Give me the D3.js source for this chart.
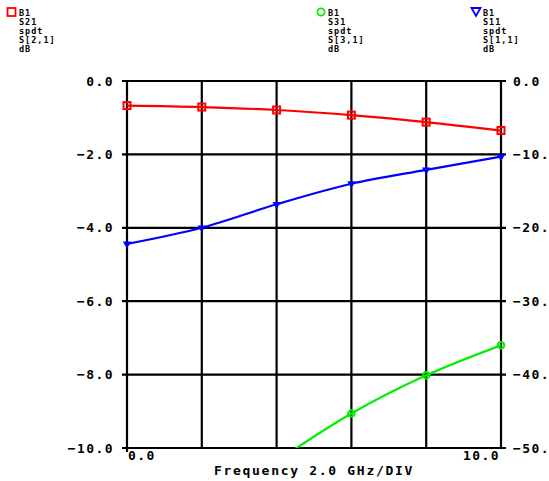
<!DOCTYPE html>
<html><head><meta charset="utf-8">
<script src="https://cdn.jsdelivr.net/npm/d3@7"></script>
<style>
html,body{margin:0;padding:0;background:#fff;overflow:hidden}
text{font-family:"DejaVu Sans Mono",monospace;font-weight:bold;fill:#000}
</style></head><body>
<script>
const freqs = [0, 2, 4, 6, 8, 10];
const s21 = [-0.67, -0.71, -0.79, -0.93, -1.12, -1.35];
const s11 = [-22.2, -20.0, -16.8, -14.0, -12.1, -10.3];
const s31Freqs = [4, 6, 8, 10];
const s31 = [-51.8, -45.3, -40.1, -36.0];
const leftTicks = [0, -2, -4, -6, -8, -10];
const rightTicks = [0, -10, -20, -30, -40, -50];
const xGrid = [0, 2, 4, 6, 8, 10];
const legends = [
  {name:"S21", lines:["B1","S21","spdt","S[2,1]","dB"], color:"#ff0000", shape:"square"},
  {name:"S31", lines:["B1","S31","spdt","S[3,1]","dB"], color:"#00ee00", shape:"circle"},
  {name:"S11", lines:["B1","S11","spdt","S[1,1]","dB"], color:"#0000ff", shape:"triangle"}
];

const W = 549, H = 481;
const m = {l:127, r:501, t:81, b:448};
const svg = d3.select("body").append("svg").attr("width", W).attr("height", H);
const x = d3.scaleLinear().domain([0,10]).range([m.l, m.r]);
const yL = d3.scaleLinear().domain([-10,0]).range([m.b, m.t]);
const yR = d3.scaleLinear().domain([-50,0]).range([m.b, m.t]);
const fmt = v => (v<0?"\u2212":"") + Math.abs(v).toFixed(1);

svg.append("defs").append("clipPath").attr("id","clip")
  .append("rect").attr("x", m.l).attr("y", m.t).attr("width", m.r-m.l).attr("height", m.b-m.t);

// grid
const g = svg.append("g").attr("stroke","#000").attr("stroke-width",2.2);
g.selectAll("line.h").data(leftTicks).join("line")
  .attr("x1", m.l-5).attr("x2", m.r+5).attr("y1", d=>yL(d)).attr("y2", d=>yL(d));
g.selectAll("line.v").data(xGrid).join("line")
  .attr("y1", m.t).attr("y2", m.b).attr("x1", d=>x(d)).attr("x2", d=>x(d));
g.append("line").attr("x1", x(0)).attr("x2", x(0)).attr("y1", m.b).attr("y2", m.b+4);

// left labels
svg.selectAll("text.yl").data(leftTicks).join("text")
  .attr("x", m.l-13).attr("y", d=>yL(d)+4.5).attr("text-anchor","end")
  .attr("font-size",13).attr("letter-spacing",1.4).text(fmt);
// right labels (window edge cuts them to 4 characters, as in the original)
svg.selectAll("text.yr").data(rightTicks).join("text")
  .attr("x", m.r+12).attr("y", d=>yR(d)+4.5)
  .attr("font-size",13).attr("letter-spacing",1.4).text(d=>fmt(d).slice(0,4));
// x labels
svg.append("text").attr("x", x(0)+1).attr("y", 460).attr("font-size",13).attr("letter-spacing",1.4).text(fmt(xGrid[0]));
svg.append("text").attr("x", x(10)-1).attr("y", 460).attr("text-anchor","end").attr("font-size",13).attr("letter-spacing",1.4).text(fmt(xGrid[xGrid.length-1]));
svg.append("text").attr("x", 314).attr("y", 475).attr("text-anchor","middle").attr("font-size",13).attr("letter-spacing",1.7).text("Frequency 2.0 GHz/DIV");

// curves
const line = (ys, sc, xs) => d3.line().curve(d3.curveMonotoneX)
  .x((d,i)=>x(xs[i])).y(d=>sc(d))(ys);
const plot = svg.append("g").attr("clip-path","url(#clip)");
plot.append("path").attr("d", line(s31, yR, s31Freqs)).attr("fill","none").attr("stroke","#00ee00").attr("stroke-width",2.2);
plot.append("path").attr("d", line(s11, yR, freqs)).attr("fill","none").attr("stroke","#0000ff").attr("stroke-width",2.2);
plot.append("path").attr("d", line(s21, yL, freqs)).attr("fill","none").attr("stroke","#ff0000").attr("stroke-width",2.2);

// markers
const mk = svg.append("g");
mk.selectAll("rect.s21").data(s21).join("rect")
  .attr("x",(d,i)=>x(freqs[i])-3.5).attr("y",d=>yL(d)-3.5).attr("width",7).attr("height",7)
  .attr("fill","none").attr("stroke","#ff0000").attr("stroke-width",2);
const s31Pts = s31.map((v,i)=>({f:s31Freqs[i], v})).filter(p=>p.v>=-50);
mk.selectAll("circle.s31").data(s31Pts).join("circle")
  .attr("cx",p=>x(p.f)).attr("cy",p=>yR(p.v)).attr("r",3.3)
  .attr("fill","none").attr("stroke","#00ee00").attr("stroke-width",2);
const tri = d3.symbol().type(d3.symbolTriangle).size(30);
mk.selectAll("path.s11").data(s11).join("path")
  .attr("d", tri).attr("transform",(d,i)=>`translate(${x(freqs[i])},${yR(d)}) rotate(180)`)
  .attr("fill","#0000ff");

// legends
const legX = [19, 328, 483];
legends.forEach((L, k) => {
  const lg = svg.append("g");
  L.lines.forEach((t, j) => {
    lg.append("text").attr("x", legX[k]).attr("y", 15.5 + j*9.2).attr("font-size",8.5).attr("letter-spacing",1).text(t);
  });
  const cx = legX[k]-7, cy = 12;
  if (L.shape==="square") lg.append("rect").attr("x",cx-4.5).attr("y",cy-4).attr("width",8).attr("height",8).attr("fill","none").attr("stroke",L.color).attr("stroke-width",1.8);
  if (L.shape==="circle") lg.append("circle").attr("cx",cx).attr("cy",cy).attr("r",3.6).attr("fill","none").attr("stroke",L.color).attr("stroke-width",1.8);
  if (L.shape==="triangle") lg.append("path").attr("d",`M${cx-4.5},${cy-4} L${cx+4.5},${cy-4} L${cx},${cy+4} Z`).attr("fill","none").attr("stroke",L.color).attr("stroke-width",1.8);
});
</script>
</body></html>
